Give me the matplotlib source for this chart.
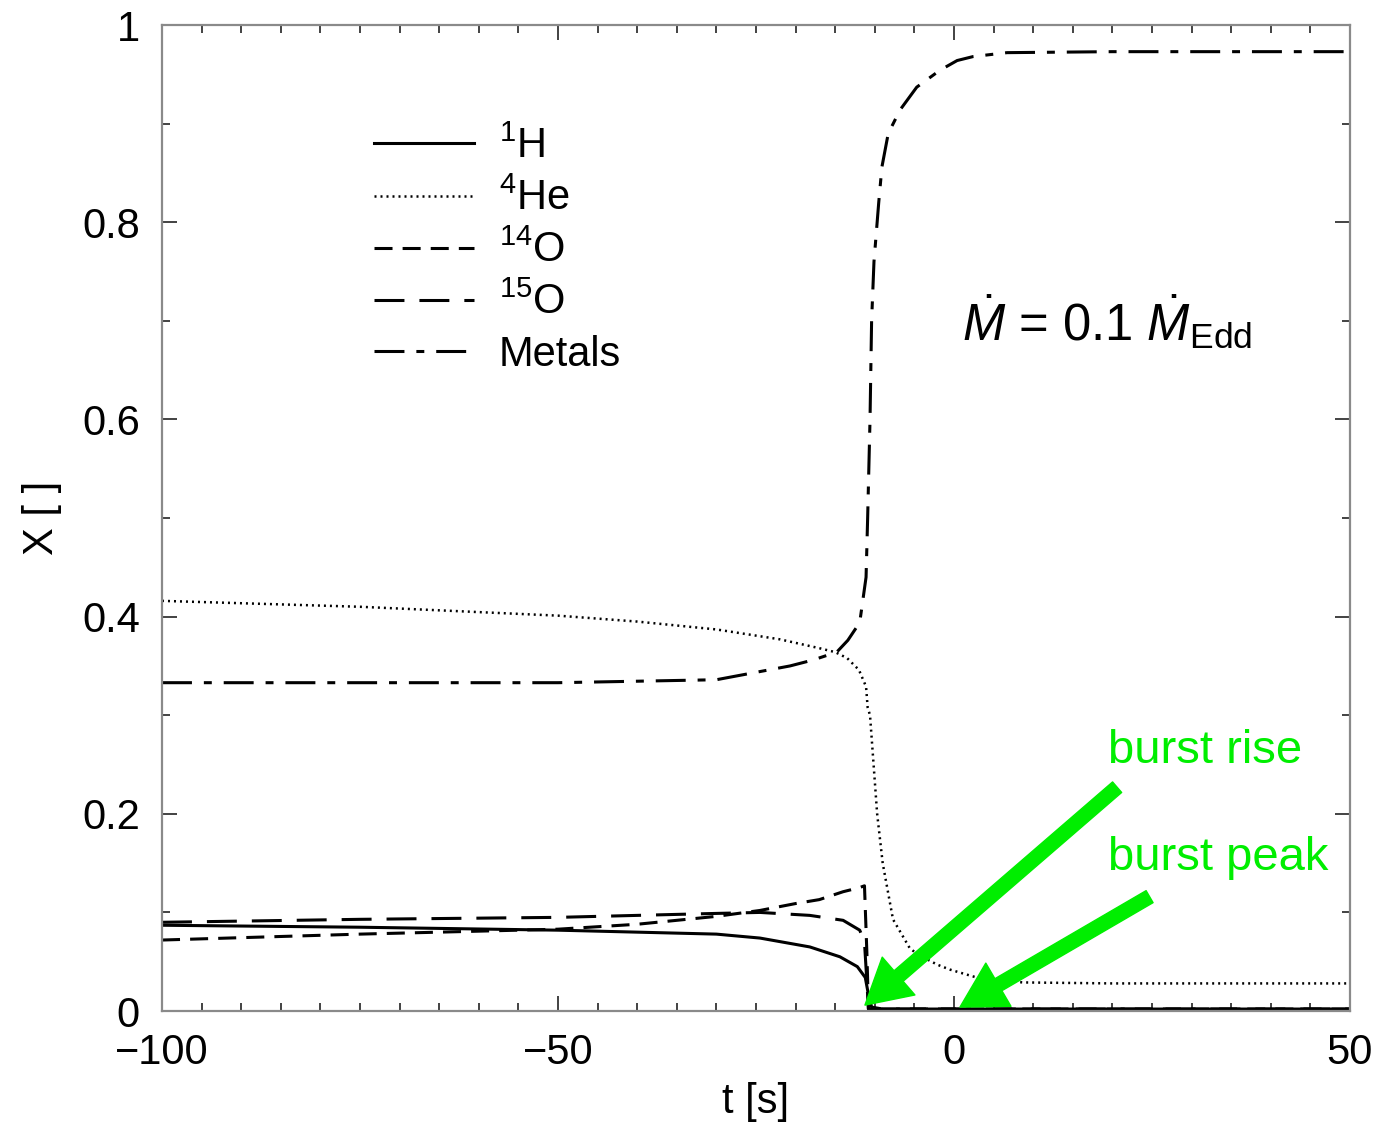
import numpy as np
import matplotlib
matplotlib.use("Agg")
from matplotlib import pyplot as plt
from matplotlib.ticker import MultipleLocator, FuncFormatter

plt.rcParams["font.family"] = ["Liberation Sans", "DejaVu Sans"]
plt.rcParams["mathtext.fontset"] = "custom"
plt.rcParams["mathtext.rm"] = "Liberation Sans"
plt.rcParams["mathtext.it"] = "Liberation Sans:italic"

# values (t in s, X mass fraction)
t_metals = [-100, -75, -50, -30, -20.7, -17.8, -14.8, -13.4, -11.9, -11.5, -11.1,
            -10.9, -10.6, -10.4, -10.1, -9.8, -9.5, -9.1, -8.3, -6.8, -4.7, -1.8,
            0.4, 2.4, 6.7, 20, 50]
x_metals = [0.333, 0.333, 0.333, 0.336, 0.350, 0.356, 0.364, 0.376, 0.394, 0.417,
            0.44, 0.50, 0.60, 0.70, 0.76, 0.79, 0.82, 0.856, 0.89, 0.914, 0.937,
            0.954, 0.964, 0.968, 0.972, 0.973, 0.973]

t_he = [-100, -75, -50, -40, -30, -22, -17, -15, -13.5, -12, -11.1, -10.9, -10.6,
        -9.7, -9.0, -7.7, -5.6, -4.7, -2.1, -0.5, 1.6, 3.3, 8.7, 20, 50]
x_he = [0.416, 0.41, 0.401, 0.395, 0.387, 0.377, 0.368, 0.364, 0.358, 0.346, 0.329,
        0.308, 0.30, 0.20, 0.15, 0.093, 0.064, 0.058, 0.047, 0.042, 0.037, 0.033,
        0.029, 0.028, 0.028]

t_h = [-100, -75, -50, -30, -24.5, -18.2, -14.4, -12.2, -11.2, -10.9, -10.4, -9, 0, 50]
x_h = [0.087, 0.085, 0.082, 0.078, 0.074, 0.065, 0.055, 0.045, 0.034, 0.021, 0.004,
       0.002, 0.002, 0.002]

t_o14 = [-100, -75, -50, -40, -30, -24.5, -20, -17, -14, -12, -11.3, -11.0, -10.8,
         -9, 0, 50]
x_o14 = [0.072, 0.078, 0.083, 0.088, 0.096, 0.102, 0.109, 0.113, 0.121, 0.125,
         0.127, 0.06, 0.002, 0.002, 0.002, 0.002]

t_o15 = [-100, -75, -50, -30, -24.5, -18.2, -14, -11.9, -11.3, -11.0, -10.8, -9, 0, 50]
x_o15 = [0.090, 0.093, 0.095, 0.099, 0.100, 0.097, 0.092, 0.082, 0.07, 0.03, 0.002,
         0.002, 0.002, 0.002]

labels = [r"$^{1}$H", r"$^{4}$He", r"$^{14}$O", r"$^{15}$O", "Metals"]

fig = plt.figure(figsize=(13.74, 11.28), dpi=100)
ax = fig.add_axes([0.1179, 0.1037, 0.8646, 0.8741])

lw = 2.2
ax.plot(t_h, x_h, color="black", lw=lw, linestyle="-", label=labels[0])
ax.plot(t_he, x_he, color="black", lw=1.8, linestyle=(0, (0.8, 1.6)), label=labels[1])
ax.plot(t_o14, x_o14, color="black", lw=lw, linestyle=(0, (5.9, 3.3)), label=labels[2])
ax.plot(t_o15, x_o15, color="black", lw=lw, linestyle=(0, (9.8, 4.9)), label=labels[3])
ax.plot(t_metals, x_metals, color="black", lw=lw,
        linestyle=(0, (9.8, 3.9, 2.6, 3.9)), label=labels[4])

ax.set_xlim(-100, 50)
ax.set_ylim(0, 1)
ax.xaxis.set_major_locator(MultipleLocator(50))
ax.xaxis.set_minor_locator(MultipleLocator(5))
ax.yaxis.set_major_locator(MultipleLocator(0.2))
ax.yaxis.set_minor_locator(MultipleLocator(0.1))
ax.yaxis.set_major_formatter(FuncFormatter(lambda v, p: "%g" % round(v, 2)))

for s in ax.spines.values():
    s.set_color("#8a8a8a")
    s.set_linewidth(1.6)
ax.tick_params(which="both", direction="in", top=True, right=True,
               labelsize=30, color="#222222", width=1.2)
ax.tick_params(which="major", length=11, pad=16)
ax.tick_params(which="minor", length=6)

ax.set_xlabel("t [s]", fontsize=30, labelpad=6)
ax.set_ylabel("X [ ]", fontsize=30, labelpad=14)

leg = ax.legend(loc="upper left", bbox_to_anchor=(0.147, 0.935), frameon=False,
                fontsize=30, handlelength=2.4, handletextpad=0.6, labelspacing=0.28)

green = "#00ee00"
ax.text(1.0, 0.68, r"$\dot{M}$ = 0.1 $\dot{M}_{\mathrm{Edd}}$", fontsize=36.5)
ax.text(19.4, 0.2515, "burst rise", fontsize=34, color=green)
ax.text(19.4, 0.143, "burst peak", fontsize=34, color=green)

arrow = dict(facecolor=green, edgecolor=green, width=10, headwidth=36,
             headlength=32, shrink=0)
ax.annotate("", xy=(-11.24, 0.006), xytext=(20.6, 0.227), arrowprops=arrow)
ax.annotate("", xy=(0.76, 0.004), xytext=(24.7, 0.116), arrowprops=arrow)

fig.savefig("out.png", dpi=100)
